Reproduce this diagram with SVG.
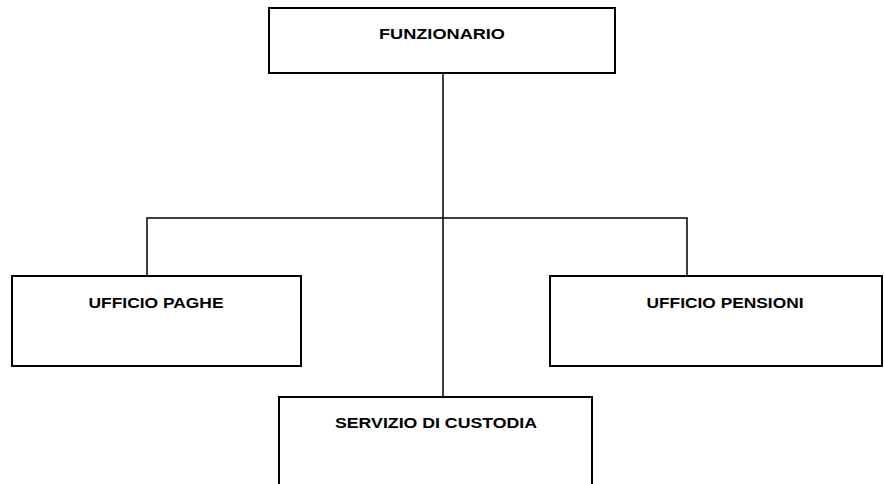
<svg xmlns="http://www.w3.org/2000/svg" width="884" height="484" viewBox="0 0 884 484">
<style>
.box{fill:#fff;stroke:#000;stroke-width:2}
.lbl{font-family:"Liberation Sans",Arial,sans-serif;font-weight:bold;font-size:15px;fill:#000;text-anchor:middle}
.con{fill:none;stroke:#000;stroke-width:1.5}
</style>
<rect width="884" height="484" fill="#fff"/>
<g id="connectors">
<line class="con" x1="443" y1="73" x2="443" y2="397"/>
<polyline class="con" points="147,276 147,218 687,218 687,276"/>
</g>
<g id="funzionario">
<rect class="box" x="269" y="8" width="346" height="65"/>
<text class="lbl" x="442" y="39" textLength="126" lengthAdjust="spacingAndGlyphs">FUNZIONARIO</text>
</g>
<g id="ufficio-paghe">
<rect class="box" x="12" y="276" width="289" height="90"/>
<text class="lbl" x="156" y="308" textLength="135" lengthAdjust="spacingAndGlyphs">UFFICIO PAGHE</text>
</g>
<g id="ufficio-pensioni">
<rect class="box" x="550" y="276" width="332" height="90"/>
<text class="lbl" x="725" y="308" textLength="157" lengthAdjust="spacingAndGlyphs">UFFICIO PENSIONI</text>
</g>
<g id="servizio-custodia">
<rect class="box" x="279" y="397" width="313" height="100"/>
<text class="lbl" x="436" y="428" textLength="202" lengthAdjust="spacingAndGlyphs">SERVIZIO DI CUSTODIA</text>
</g>
</svg>
